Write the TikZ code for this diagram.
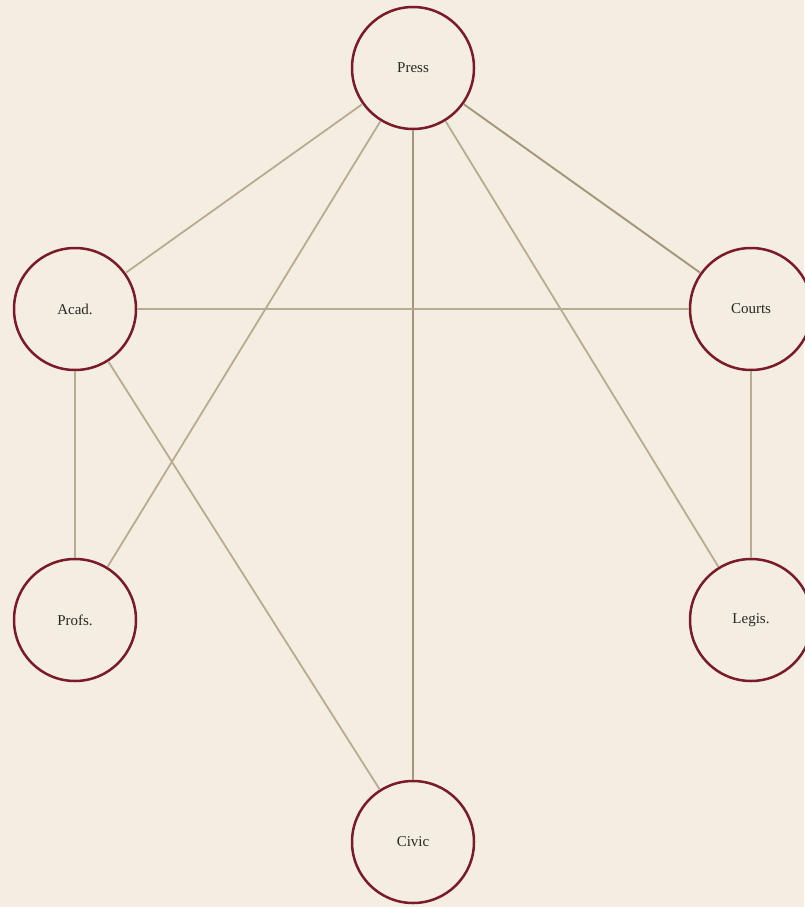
\documentclass[tikz,border=0pt]{standalone}
\usepackage{fontspec}
\setmainfont{Liberation Serif}
\definecolor{bg}{HTML}{F3EEE1}
\definecolor{ring}{HTML}{7A1A2A}
\definecolor{edgeA}{HTML}{B9AB8F}
\definecolor{edgeB}{HTML}{A69679}
\definecolor{txt}{HTML}{2A2626}
\begin{document}
\begin{tikzpicture}[x=1pt,y=-1pt,
  actor/.style={circle,draw=ring,line width=2.5pt,fill=bg,minimum size=122pt,inner sep=0pt,text=txt,font=\fontsize{15}{17}\selectfont},
  tie/.style={draw=edgeA,line width=1.8pt},
  tiestrong/.style={draw=edgeB,line width=1.9pt}]
\fill[bg] (0,0) rectangle (804,907);
\useasboundingbox (0,0) rectangle (804,907);
\node[actor] (press) at (413,68) {Press};
\node[actor] (acad) at (75,309) {Acad.};
\node[actor] (courts) at (751,309) {Courts};
\node[actor] (profs) at (75,620) {Profs.};
\node[actor] (legis) at (751,620) {Legis.};
\node[actor] (civic) at (413,842) {Civic};
\path[tie] (press) -- (acad);
\path[tie] (press) -- (profs);
\path[tiestrong] (press) -- (civic);
\path[tie] (press) -- (legis);
\path[tiestrong] (press) -- (courts);
\path[tie] (acad) -- (courts);
\path[tie] (acad) -- (profs);
\path[tie] (acad) -- (civic);
\path[tie] (courts) -- (legis);
\end{tikzpicture}
\end{document}
